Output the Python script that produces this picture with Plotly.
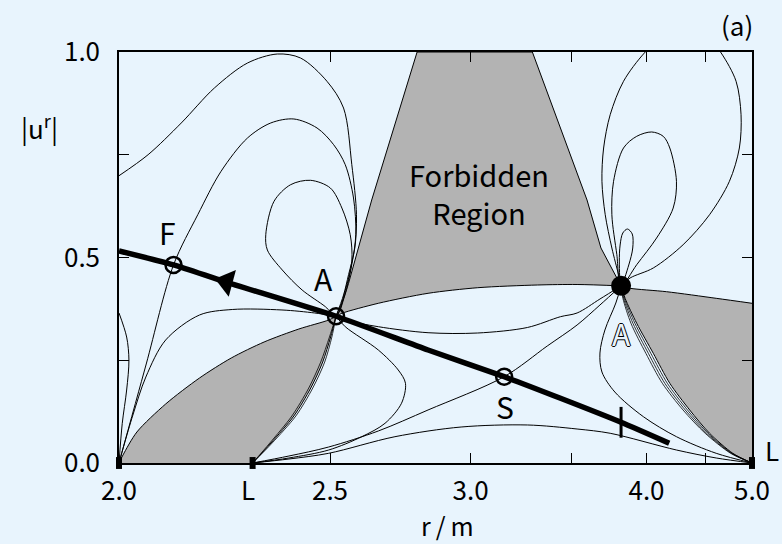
import plotly.graph_objects as go

# ---------------- data: radius r/m and |u^r| ----------------
R_L = 2.29            # inner light surface "L"
R_OUT = 5.0           # outer light surface
A1 = (2.518, 0.357)   # open sonic point A
A2 = (3.816, 0.431)   # filled sonic point A
F_PT = (2.109, 0.482)
S_PT = (3.150, 0.210)

# forbidden region boundaries
lens_right_r = [2.29, 2.3367, 2.3974, 2.4443, 2.4786, 2.5019, 2.518]
lens_right_u = [0.0, 0.0487, 0.1144, 0.1825, 0.2457, 0.3066, 0.357]
lens_upper_r = [2.0, 2.0076, 2.0345, 2.0926, 2.1652, 2.2382, 2.3189, 2.4110, 2.4961, 2.518]
lens_upper_u = [0.0, 0.0195, 0.0754, 0.1436, 0.2068, 0.2555, 0.2944, 0.3260, 0.3479, 0.357]

mid_lower_r = [2.518, 2.5357, 2.6519, 2.8286, 3.0304, 3.3142, 3.5349, 3.816]
mid_lower_u = [0.357, 0.3642, 0.3886, 0.4129, 0.4265, 0.4331, 0.4343, 0.431]
mid_edge_r = [2.518, 2.5309, 2.5562, 2.6299, 2.7877, 3.2885, 3.5947, 3.682, 3.816]
mid_edge_u = [0.357, 0.3723, 0.4372, 0.6399, 1.0, 1.0, 0.6399, 0.5231, 0.431]

right_lower_u = [0.431, 0.4007, 0.3399, 0.2669, 0.1939, 0.1290, 0.0723, 0.0236, 0.0]
right_lower_r = [3.816, 3.8440, 3.9272, 4.0523, 4.1849, 4.3566, 4.5430, 4.7824, 5.0]
right_upper_r = [3.816, 3.8791, 4.1578, 4.6091, 5.0]
right_upper_u = [0.431, 0.4251, 0.4168, 0.4007, 0.3886]

# separatrix bundles running into the light surfaces
lens_bundle = [
    ([2.29, 2.3398, 2.4028, 2.4500, 2.4844, 2.5055, 2.518], lens_right_u),
    ([2.29, 2.3337, 2.3920, 2.4387, 2.4728, 2.4984, 2.518], lens_right_u),
]
right_bundle = [
    ([3.816, 3.8391, 3.9141, 4.0330, 4.1644, 4.3370, 4.5285, 4.7739, 5.0], right_lower_u),
    ([3.816, 3.8335, 3.8997, 4.0140, 4.1441, 4.3168, 4.5140, 4.7664, 5.0], right_lower_u),
    ([3.816, 3.8287, 3.8855, 3.9951, 4.1239, 4.2975, 4.5006, 4.7588, 5.0], right_lower_u),
]

# other solution curves
curves = {
    "loop_outer": (
        [2.0, 2.0567, 2.1255, 2.1988, 2.2774, 2.3531, 2.4157, 2.4911, 2.5408, 2.5663, 2.5810, 2.5757, 2.5562, 2.5408, 2.518],
        [0.699, 0.7501, 0.8273, 0.9124, 0.9732, 0.9951, 0.9854, 0.9287, 0.8637, 0.7258, 0.6041, 0.5231, 0.4582, 0.4088, 0.357]),
    "loop_mid": (
        [2.0, 2.053, 2.109, 2.1614, 2.2142, 2.2774, 2.336, 2.3974, 2.4622, 2.5108, 2.546, 2.5716, 2.5788, 2.5663, 2.545, 2.518],
        [0.0, 0.2409, 0.482, 0.6041, 0.7097, 0.7908, 0.8273, 0.8370, 0.8151, 0.7745, 0.7258, 0.6448, 0.5555, 0.4825, 0.41, 0.357]),
    "loop_inner": (
        [2.518, 2.4864, 2.4201, 2.3662, 2.3273, 2.3232, 2.3445, 2.3885, 2.4435, 2.5010, 2.5357, 2.5614, 2.5663, 2.546, 2.518],
        [0.357, 0.3803, 0.4209, 0.4696, 0.5182, 0.5555, 0.6367, 0.6771, 0.6878, 0.6691, 0.6204, 0.5555, 0.4908, 0.42, 0.357]),
    "origin_to_A": (
        [2.0, 2.0095, 2.0267, 2.0522, 2.0926, 2.1652, 2.2406, 2.3654, 2.4556, 2.518],
        [0.0, 0.0438, 0.1168, 0.2092, 0.2993, 0.3601, 0.3735, 0.3723, 0.3650, 0.357]),
    "edge_bulge": (
        [2.0, 2.0146, 2.019, 2.0146, 2.0062, 2.0],
        [0.365, 0.3065, 0.2506, 0.1776, 0.0966, 0.0]),
    "A_to_A": (
        [2.518, 2.5460, 2.6519, 2.8286, 3.0304, 3.2633, 3.4393, 3.5349, 3.6756, 3.816],
        [0.357, 0.3479, 0.3316, 0.3170, 0.3163, 0.3297, 0.3560, 0.3650, 0.3990, 0.431]),
    "A_to_L": (
        [2.518, 2.5460, 2.6519, 2.7199, 2.7455, 2.7314, 2.6743, 2.5977, 2.4961, 2.3840, 2.29],
        [0.357, 0.3316, 0.2749, 0.2263, 0.1939, 0.1453, 0.0966, 0.0640, 0.0316, 0.0122, 0.0]),
    "L_hump": (
        [2.29, 2.3840, 2.4961, 2.7084, 2.9599, 3.2633, 3.5349, 3.7423, 4.2409, 4.6091, 5.0],
        [0.0, 0.0097, 0.0236, 0.0640, 0.0876, 0.0925, 0.0827, 0.0723, 0.0316, 0.0122, 0.0]),
    "L_S_A": (
        [2.29, 2.3840, 2.4961, 2.6519, 2.8286, 3.150, 3.3667, 3.5349, 3.6756, 3.816],
        [0.0, 0.0170, 0.0389, 0.0779, 0.1290, 0.210, 0.2847, 0.3358, 0.3844, 0.431]),
    "A_to_out": (
        [3.816, 3.7803, 3.7077, 3.6756, 3.6884, 3.7736, 3.9764, 4.2409, 4.6091, 5.0],
        [0.431, 0.3893, 0.3236, 0.2676, 0.2214, 0.1727, 0.1127, 0.0640, 0.0236, 0.0]),
    "big_loop": (
        [3.816, 3.7986, 3.7536, 3.7097, 3.6884, 3.6993, 3.7423, 3.8329, 3.9839, 4.1416, 4.3273, 4.5112,
         4.6597, 4.8182, 4.8735, 4.8546, 4.7461, 4.5430, 4.2984, 4.0523, 3.8791, 3.816],
        [0.431, 0.4582, 0.5231, 0.6041, 0.6854, 0.7664, 0.8474, 0.9287, 0.9976, 1.0414, 1.0584, 1.0414,
         0.9976, 0.9287, 0.8474, 0.7664, 0.6854, 0.6041, 0.5311, 0.4745, 0.4501, 0.431]),
    "middle_loop": (
        [3.816, 3.7871, 3.7536, 3.7649, 3.8329, 3.9272, 4.0392, 4.1311, 4.1849, 4.2409, 4.2131, 4.0780, 3.9272, 3.816],
        [0.431, 0.5068, 0.6041, 0.6854, 0.7664, 0.7949, 0.8054, 0.7949, 0.7664, 0.6854, 0.6204, 0.5474, 0.4825, 0.431]),
    "small_loop": (
        [3.816, 3.8040, 3.8095, 3.8280, 3.8607, 3.8947, 3.8983, 3.8699, 3.816],
        [0.431, 0.4891, 0.5304, 0.5596, 0.5693, 0.5572, 0.5231, 0.4818, 0.431]),
}

# accretion solution (thick line)
flow_r = [2.0, 2.109, 2.222, 2.518, 2.8286, 3.150, 3.4393, 3.816, 4.180]
flow_u = [0.516, 0.482, 0.4414, 0.357, 0.2749, 0.210, 0.1574, 0.0990, 0.0479]
ARROW = (2.227, 0.441)
BAR = (3.816, 0.099)

x_ticks_r = [2.0, 2.5, 3.0, 3.5, 4.0, 4.5, 5.0]
x_ticks_txt = ["2.0", "2.5", "3.0", "", "4.0", "", "5.0"]
y_ticks = [0.0, 0.25, 0.5, 0.75, 1.0]
y_ticks_txt = ["0.0", "", "0.5", "", "1.0"]


def sx(rs):
    """horizontal coordinate: 1 - 2m/r"""
    if isinstance(rs, (int, float)):
        return 1.0 - 2.0 / rs
    return [1.0 - 2.0 / v for v in rs]


FONT = "Noto Sans CJK JP"
BG = "#e8f4fd"
GRAY = "#b3b3b3"

fig = go.Figure()

# gray forbidden regions: each pair of traces encloses one region
pairs = [
    ((lens_right_r, lens_right_u, "spline"), (lens_upper_r, lens_upper_u, "spline")),
    ((mid_lower_r, mid_lower_u, "spline"), (mid_edge_r, mid_edge_u, "linear")),
    ((right_lower_r, right_lower_u, "spline"), (right_upper_r, right_upper_u, "spline")),
]
for (r1, u1, s1), (r2, u2, s2) in pairs:
    fig.add_trace(go.Scatter(x=sx(r1), y=u1, mode="lines",
                             line=dict(color="black", width=1, shape=s1, smoothing=0.8)))
    fig.add_trace(go.Scatter(x=sx(r2), y=u2, mode="lines", fill="tonexty", fillcolor=GRAY,
                             line=dict(color="black", width=1, shape=s2, smoothing=0.8)))

for r, u in lens_bundle + right_bundle:
    fig.add_trace(go.Scatter(x=sx(r), y=u, mode="lines",
                             line=dict(color="black", width=0.8, shape="spline", smoothing=0.8)))

for name, (r, u) in curves.items():
    fig.add_trace(go.Scatter(x=sx(r), y=u, mode="lines", name=name,
                             line=dict(color="black", width=1, shape="spline", smoothing=0.9)))

# thick flow line with direction arrow and bar
fig.add_trace(go.Scatter(x=sx(flow_r), y=flow_u, mode="lines",
                         line=dict(color="black", width=5.5, shape="spline", smoothing=0.6)))
fig.add_trace(go.Scatter(x=[sx(ARROW[0])], y=[ARROW[1]], mode="markers",
                         marker=dict(symbol="triangle-left", size=24, angle=15, color="black")))
fig.add_trace(go.Scatter(x=[sx(BAR[0])], y=[BAR[1]], mode="markers",
                         marker=dict(symbol="line-ns", size=22, color="black",
                                     line=dict(color="black", width=3))))

# critical points
fig.add_trace(go.Scatter(x=sx([F_PT[0], A1[0], S_PT[0]]), y=[F_PT[1], A1[1], S_PT[1]], mode="markers",
                         marker=dict(symbol="circle-open", size=16, color="black",
                                     line=dict(color="black", width=2.5))))
fig.add_trace(go.Scatter(x=[sx(A2[0])], y=[A2[1]], mode="markers",
                         marker=dict(symbol="circle", size=20, color="black")))
# light-surface markers on the axis
fig.add_trace(go.Scatter(x=sx([2.0, R_L, R_OUT]), y=[0, 0, 0], mode="markers", cliponaxis=False,
                         marker=dict(symbol="line-ns", size=8.5, color="black",
                                     line=dict(color="black", width=6))))

lab = dict(family=FONT, size=30, color="black")
txt26 = dict(family=FONT, size=26, color="black")
ann = [
    dict(x=sx(F_PT[0]), y=F_PT[1], text="F", xshift=-6, yshift=33),
    dict(x=sx(A1[0]), y=A1[1], text="A", xshift=-13, yshift=38),
    dict(x=sx(S_PT[0]), y=S_PT[1], text="S", xshift=1, yshift=-29),
]
for a in ann:
    fig.add_annotation(xref="x", yref="y", showarrow=False, font=lab,
                       xanchor="center", yanchor="middle", **a)
fig.add_annotation(xref="x", yref="y", x=sx(A2[0]), y=A2[1], text="A", showarrow=False, yshift=-47,
                   xanchor="center", yanchor="middle",
                   font=dict(family=FONT, size=30, color=BG,
                             shadow="1px 0 0 #000, -1px 0 0 #000, 0 1px 0 #000, 0 -1px 0 #000"))
fig.add_annotation(xref="x", yref="y", x=sx(R_L), y=0, text="L", showarrow=False,
                   xanchor="center", yanchor="middle", xshift=-5, yshift=-25, font=txt26)
fig.add_annotation(xref="x", yref="y", x=sx(R_OUT), y=0, text="L", showarrow=False,
                   xanchor="left", yanchor="middle", xshift=11, yshift=14, font=txt26)

paper_text = [
    (0.5683, 0.657, "Forbidden<br>Region", dict(family=FONT, size=29, color="black")),
    (0.976, 1.068, "(a)", txt26),
    (-0.1256, 0.8175, "|u<sup>r</sup>|", txt26),
    (0.5196, -0.152, "r\u2009/\u2009m", dict(family=FONT, size=25, color="black")),
]
for px, py, t, f in paper_text:
    fig.add_annotation(xref="paper", yref="paper", x=px, y=py, text=t, showarrow=False,
                       xanchor="center", yanchor="middle", font=f)

axis_common = dict(showgrid=False, zeroline=False, showline=True, linecolor="black", linewidth=1.5,
                   mirror="ticks", ticks="inside", ticklen=10, tickwidth=1.2, tickcolor="black",
                   tickfont=txt26)
fig.update_layout(
    width=782, height=544,
    margin=dict(l=119, r=26, t=52, b=81),
    paper_bgcolor=BG, plot_bgcolor="rgba(0,0,0,0)",
    showlegend=False,
    xaxis=dict(range=[0, 0.6], tickvals=sx(x_ticks_r), ticktext=x_ticks_txt, ticklabelstandoff=4,
               **axis_common),
    yaxis=dict(range=[0, 1], tickvals=y_ticks, ticktext=y_ticks_txt, ticklabelstandoff=12,
               **axis_common),
)

fig.write_html("out.html")
